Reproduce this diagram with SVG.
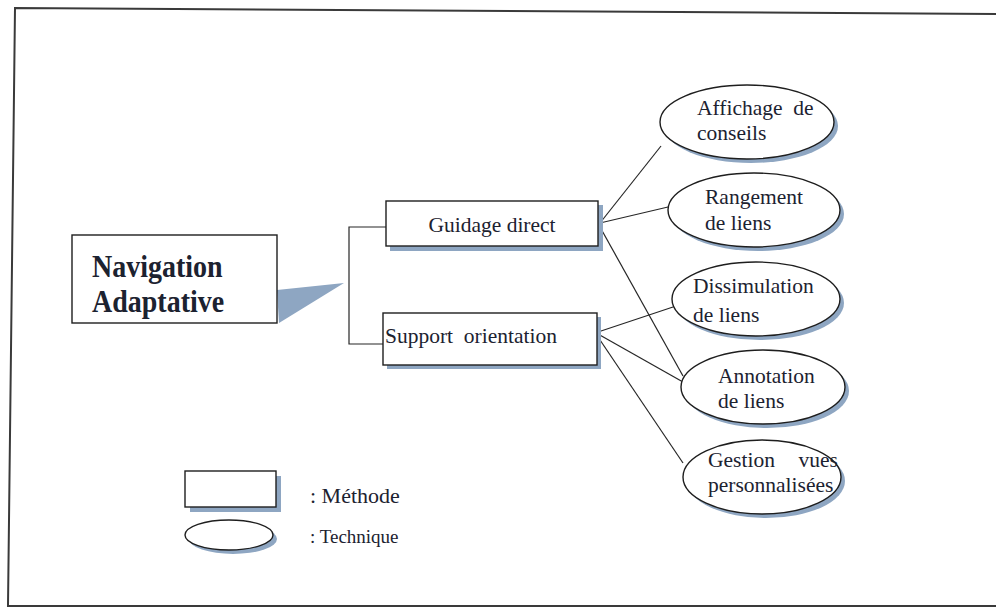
<svg xmlns="http://www.w3.org/2000/svg" width="996" height="609" viewBox="0 0 996 609">
  <style>
    .frame { fill: none; stroke: #3a3a3a; stroke-width: 2; }
    .box { fill: #ffffff; stroke: #1e1e1e; stroke-width: 1.4; }
    .shadow { fill: #8ea6c2; }
    .ell { fill: #ffffff; stroke: #1e1e1e; stroke-width: 1.4; }
    .link { fill: none; stroke: #262626; stroke-width: 1.2; }
    .t { font-family: 'Liberation Serif', serif; fill: #1c2230; }
    .m { font-size: 21.5px; }
    .title { font-size: 28px; font-weight: bold; }
  </style>

  <rect x="0" y="0" width="996" height="609" fill="#ffffff"/>

  <!-- outer frame -->
  <path class="frame" d="M996 14 L15 8 L8 606 L996 606"/>

  <!-- connectors -->
  <g id="connectors">
    <path class="link" d="M386 227 H349 V344 H386"/>
    <line class="link" x1="600" y1="223" x2="661" y2="146"/>
    <line class="link" x1="600" y1="223" x2="668" y2="207"/>
    <line class="link" x1="600" y1="227" x2="683" y2="376"/>
    <line class="link" x1="598" y1="332" x2="673" y2="307"/>
    <line class="link" x1="598" y1="334" x2="683" y2="382"/>
    <line class="link" x1="598" y1="337" x2="683" y2="463"/>
  </g>

  <!-- root -->
  <g id="navigation-adaptative">
    <polygon class="shadow" points="277,290 344,283 279,323"/>
    <rect class="box" x="72" y="235" width="205" height="88"/>
    <text class="t title" transform="translate(92,277) scale(1,1.15)">Navigation</text>
    <text class="t title" transform="translate(92,312) scale(1,1.15)">Adaptative</text>
  </g>

  <!-- methods -->
  <g id="guidage-direct">
    <rect class="shadow" x="390" y="205" width="213" height="46"/>
    <rect class="box" x="386" y="201" width="212" height="45"/>
    <text class="t m" x="492" y="232" text-anchor="middle">Guidage direct</text>
  </g>
  <g id="support-orientation">
    <rect class="shadow" x="387" y="317" width="214" height="52"/>
    <rect class="box" x="383" y="313" width="214" height="52"/>
    <text class="t m" x="385" y="343" xml:space="preserve">Support  orientation</text>
  </g>

  <!-- techniques -->
  <g id="affichage-conseils">
    <ellipse class="shadow" cx="751" cy="126" rx="87" ry="37"/>
    <ellipse class="ell" cx="747" cy="122" rx="87" ry="37"/>
    <text class="t m" x="697" y="115" xml:space="preserve">Affichage  de</text>
    <text class="t m" x="697" y="140">conseils</text>
  </g>
  <g id="rangement-liens">
    <ellipse class="shadow" cx="758" cy="214" rx="86" ry="37"/>
    <ellipse class="ell" cx="754" cy="210" rx="86" ry="37"/>
    <text class="t m" x="705" y="204">Rangement</text>
    <text class="t m" x="705" y="230">de liens</text>
  </g>
  <g id="dissimulation-liens">
    <ellipse class="shadow" cx="760" cy="303" rx="84" ry="37"/>
    <ellipse class="ell" cx="756" cy="299" rx="84" ry="37"/>
    <text class="t m" x="693" y="293">Dissimulation</text>
    <text class="t m" x="693" y="322">de liens</text>
  </g>
  <g id="annotation-liens">
    <ellipse class="shadow" cx="767" cy="391" rx="82" ry="37"/>
    <ellipse class="ell" cx="763" cy="387" rx="82" ry="37"/>
    <text class="t m" x="718" y="383">Annotation</text>
    <text class="t m" x="718" y="408">de liens</text>
  </g>
  <g id="gestion-vues">
    <ellipse class="shadow" cx="766" cy="481" rx="79" ry="37"/>
    <ellipse class="ell" cx="762" cy="477" rx="79" ry="37"/>
    <text class="t m" x="708" y="467">Gestion</text>
    <text class="t m" x="838" y="467" text-anchor="end">vues</text>
    <text class="t m" x="708" y="492">personnalisées</text>
  </g>

  <!-- legend -->
  <g id="legende-methode">
    <rect class="shadow" x="190" y="476" width="91" height="36"/>
    <rect class="box" x="185" y="471" width="91" height="36"/>
    <text class="t" x="310" y="503" font-size="22">: Méthode</text>
  </g>
  <g id="legende-technique">
    <ellipse class="shadow" cx="233" cy="539" rx="44" ry="15"/>
    <ellipse class="ell" cx="229" cy="535" rx="44" ry="15"/>
    <text class="t" x="310" y="543" font-size="19">: Technique</text>
  </g>
</svg>
